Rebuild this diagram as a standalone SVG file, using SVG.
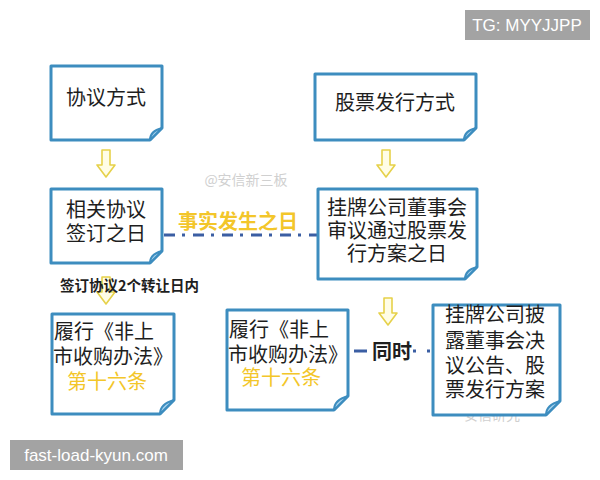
<svg xmlns="http://www.w3.org/2000/svg" xmlns:xlink="http://www.w3.org/1999/xlink" width="600" height="480" viewBox="0 0 600 480">
<style>
.box{fill:#fff;stroke:#3d8dbf;stroke-width:3;stroke-linejoin:round}
.fold{fill:#a9d4ef;stroke:#3d8dbf;stroke-width:2;stroke-linejoin:round}
.t{font-family:"Noto Sans CJK SC","Noto Sans",sans-serif;font-size:20px;fill:#1e1e1e}
.s{font-size:14.5px}
.c{text-anchor:middle}
.y{fill:#f3c62a}
.b{font-weight:bold}
.arr{fill:#fffde6;stroke:#e6d14a;stroke-width:1.6;stroke-linejoin:round}
.wm{font-family:"Noto Sans CJK SC",sans-serif;fill:#d0d0d0;font-size:14px;text-anchor:middle}
.badge{fill:#a3a3a3}
.bt{font-family:"Liberation Sans",Arial,sans-serif;font-size:17px;fill:#fff;text-anchor:middle}
</style>
<defs>
<path id="arrow" class="arr" d="M-4,0 H4 V15 H9 L0,27 L-9,15 H-4 Z"/>
</defs>
<rect width="600" height="480" fill="#fff"/>

<!-- watermarks -->
<text class="wm" x="246" y="185">@安信新三板</text>
<text class="wm" x="492" y="420">安信研究</text>

<g id="connectors">
<use xlink:href="#arrow" x="106" y="150"/>
<use xlink:href="#arrow" x="386" y="150"/>
<use xlink:href="#arrow" x="106" y="277"/>
<use xlink:href="#arrow" x="388" y="298"/>
<line x1="164" y1="235" x2="318" y2="235" stroke="#3b5ea3" stroke-width="3" stroke-dasharray="11 7 3 8"/>
<text class="t b c y" x="238" y="229">事实发生之日</text>
<path d="M354 351 H367 M413 351 h3 M427 351 h3" stroke="#3b5ea3" stroke-width="3" fill="none"/>
<text class="t b c" x="392" y="359">同时</text>
<text class="t b s" x="60" y="291">签订协议2个转让日内</text>
</g>

<g id="n1">
<path class="box" d="M51,66 H162 V128 L150,140 H51 Z"/>
<path class="fold" d="M162,128 L150,140 Q150,131 162,128 Z"/>
<text class="t c" x="106" y="105">协议方式</text>
</g>

<g id="n2">
<path class="box" d="M315,74 H476 V128 L464,140 H315 Z"/>
<path class="fold" d="M476,128 L464,140 Q464,131 476,128 Z"/>
<text class="t c" x="395" y="110">股票发行方式</text>
</g>

<g id="n3">
<path class="box" d="M51,189 H162 V251 L150,263 H51 Z"/>
<path class="fold" d="M162,251 L150,263 Q150,254 162,251 Z"/>
<text class="t c" x="106" y="217">相关协议</text>
<text class="t c" x="106" y="241">签订之日</text>
</g>

<g id="n4">
<path class="box" d="M318,189 H477 V267 L465,279 H318 Z"/>
<path class="fold" d="M477,267 L465,279 Q465,270 477,267 Z"/>
<text class="t c" x="397" y="215">挂牌公司董事会</text>
<text class="t c" x="397" y="238">审议通过股票发</text>
<text class="t c" x="397" y="261">行方案之日</text>
</g>

<g id="n5">
<path class="box" d="M52,314 H174 V400 L160,414 H52 Z"/>
<path class="fold" d="M174,400 L160,414 Q160,404 174,400 Z"/>
<text class="t" x="54" y="339">履行《非上</text>
<text class="t" x="53" y="364">市收购办法》</text>
<text class="t c y" x="107" y="389">第十六条</text>
</g>

<g id="n6">
<path class="box" d="M227,310 H348 V396 L334,410 H227 Z"/>
<path class="fold" d="M348,396 L334,410 Q334,400 348,396 Z"/>
<text class="t" x="229" y="337">履行《非上</text>
<text class="t" x="228" y="362">市收购办法》</text>
<text class="t c y" x="281" y="385">第十六条</text>
</g>

<g id="n7">
<path class="box" d="M433,305 H560 V401 L546,415 H433 Z"/>
<path class="fold" d="M560,401 L546,415 Q546,405 560,401 Z"/>
<text class="t" x="445" y="322">挂牌公司披</text>
<text class="t" x="445" y="348">露董事会决</text>
<text class="t" x="445" y="373">议公告、股</text>
<text class="t" x="445" y="397">票发行方案</text>
</g>

<g id="badges">
<rect class="badge" x="465" y="10" width="125" height="30"/>
<text class="bt" x="527" y="31">TG: MYYJJPP</text>
<rect class="badge" x="10" y="440" width="173" height="30"/>
<text class="bt" x="96" y="461">fast-load-kyun.com</text>
</g>
</svg>
